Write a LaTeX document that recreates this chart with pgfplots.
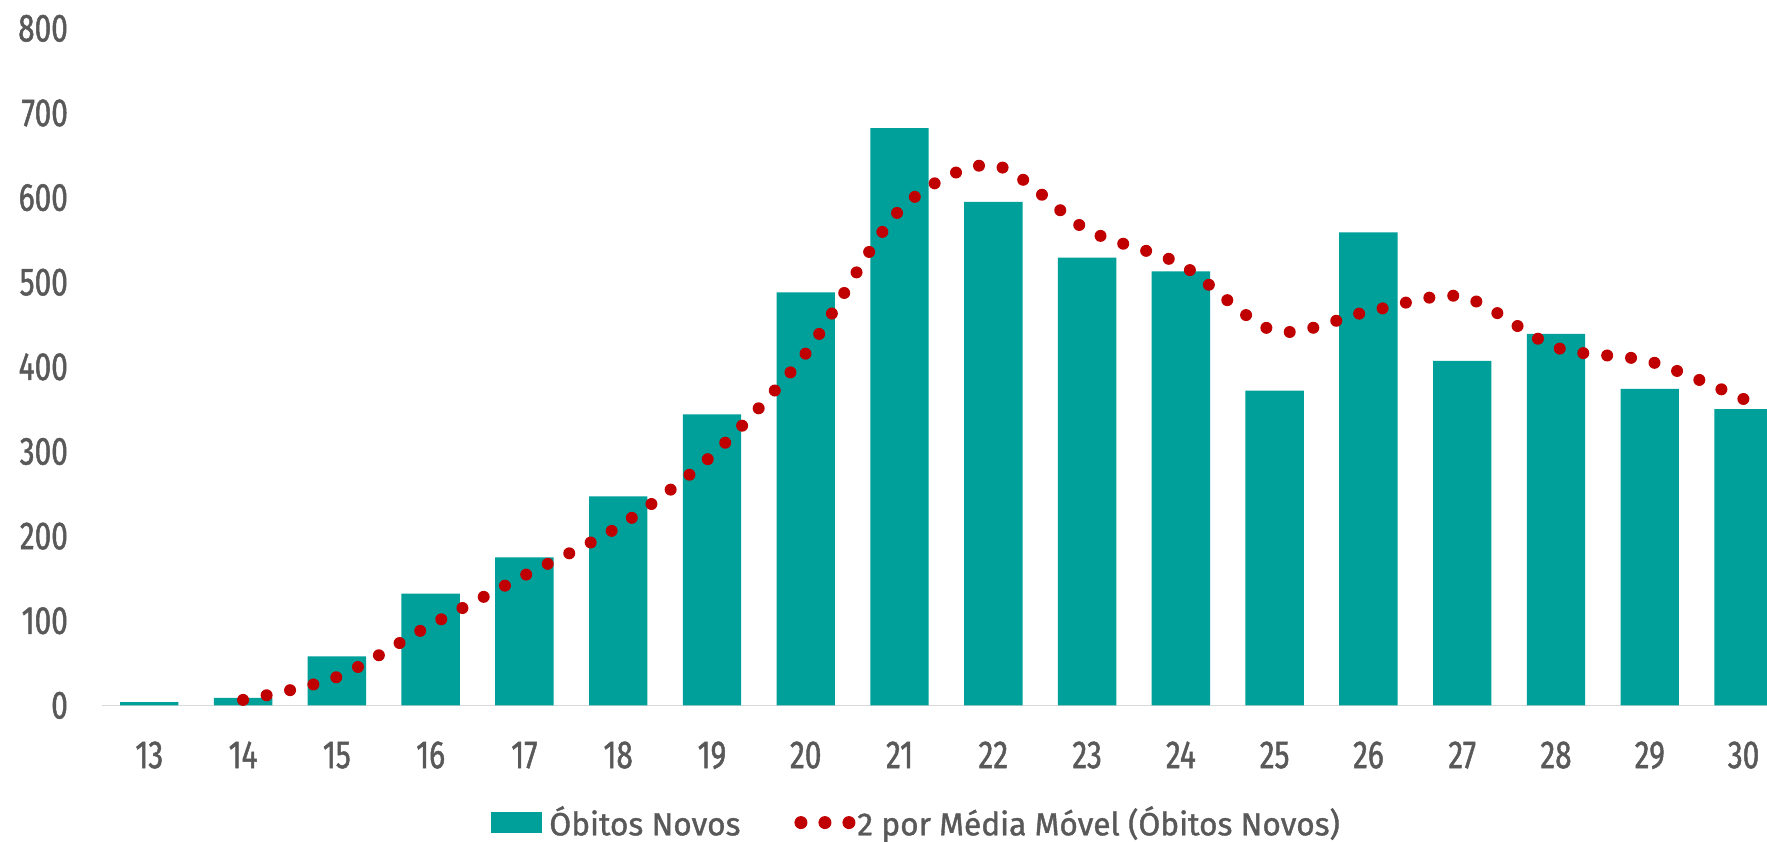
\documentclass[border=0pt]{standalone}
\usepackage{fontspec}
\setmainfont{Fira Sans}
\newfontfamily\tickfont{Fira Sans}[FakeStretch=0.76, FakeBold=1.2]
\newfontfamily\legfont{Fira Sans}[FakeStretch=0.99, FakeBold=1.2]
\usepackage{pgfplots}
\pgfplotsset{compat=1.18}
\usetikzlibrary{calc}
\definecolor{tealc}{HTML}{00A09A}
\definecolor{redc}{HTML}{C00000}
\definecolor{txt}{HTML}{595959}
\definecolor{axl}{HTML}{D9D9D9}
\begin{document}
\begin{tikzpicture}
\begin{axis}[
  scale only axis, width=665.8pt, height=270.8pt,
  xmin=12.5, xmax=30.25, ymin=0, ymax=800,
  axis x line*=bottom, axis y line*=left,
  x axis line style={draw=axl, line width=0.7pt},
  y axis line style={draw=none},
  major tick length=0pt,
  xtick={13,...,30}, ytick={0,100,...,800},
  /pgf/number format/assume math mode=true,
  ticklabel style={font=\fontsize{15.7}{18}\selectfont\tickfont, text=txt, inner sep=0pt},
  xticklabel style={anchor=base, yshift=-25.1pt},
  yticklabel style={anchor=east, xshift=-13.6pt},
  clip=true,
  legend columns=2,
  legend style={at={(axis description cs:0.2329,-0.1731)}, anchor=west, draw=none, fill=none, inner sep=0pt,
    font=\fontsize{12.8}{15}\selectfont\legfont, text=txt, nodes={inner sep=0pt},
    /tikz/every odd column/.append style={column sep=0.65pt},
    /tikz/every even column/.append style={column sep=21.6pt}},
]
\addplot[ybar, bar width=0.6227, fill=tealc, draw=none,
  legend image code/.code={\fill[tealc] (0pt,-4.1pt) rectangle (20.7pt,4.1pt); \path (22.85pt,0pt);}]
coordinates {
(13,4) (14,9) (15,58) (16,132) (17,175) (18,247) (19,344) (20,488) (21,682)
(22,595) (23,529) (24,513) (25,372) (26,559) (27,407) (28,439) (29,374) (30,350)
};
\addlegendentry{Óbitos Novos}
\addplot[smooth, redc, line width=4.8pt, line cap=round, dash pattern=on 0pt off 9.6pt, mark=none,
  legend image code/.code={\draw[redc, line width=5.2pt, line cap=round, dash pattern=on 0pt off 9.6pt] (2.6pt,0pt) -- (21.9pt,0pt);}]
coordinates {
(14,6.5) (15,33.5) (16,95) (17,153.5) (18,211) (19,295.5) (20,416) (21,585)
(22,638.5) (23,562) (24,521) (25,442.5) (26,465.5) (27,483) (28,423) (29,406.5) (30,362)
};
\addlegendentry{2 por Média Móvel (Óbitos Novos)}
\end{axis}
\pgfresetboundingbox
\path[use as bounding box] ($(current axis.south west)+(-40.96pt,-54.28pt)$) rectangle ($(current axis.north east)+(0pt,11.36pt)$);
\end{tikzpicture}
\end{document}
